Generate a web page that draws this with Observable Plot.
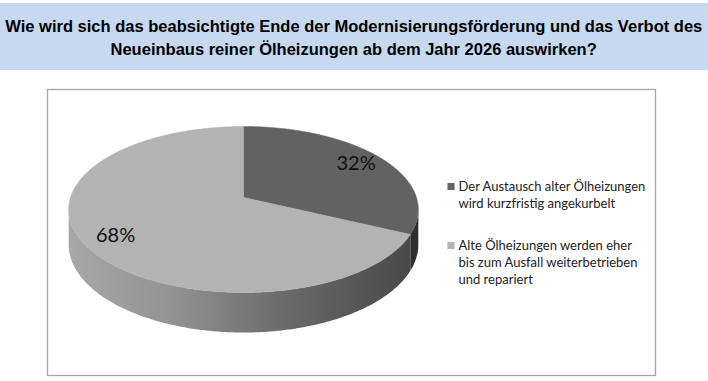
<!DOCTYPE html>
<html><head><meta charset="utf-8">
<script src="https://cdn.jsdelivr.net/npm/d3@7"></script>
<script src="https://cdn.jsdelivr.net/npm/@observablehq/plot@0.6"></script>
<style>
body{margin:0;background:#fff;width:708px;height:381px;overflow:hidden}
#title{margin-top:3px;height:67px;background:#c6d9f1;font-family:"Liberation Sans",Arial,sans-serif;font-weight:bold;font-size:16px;line-height:23px;color:#000;text-align:center;box-sizing:border-box;padding-top:12px}
#title span{display:inline-block;white-space:nowrap;transform-origin:50% 50%}
#chart svg{display:block}
</style></head><body>
<div id="title"><span id="t1">Wie wird sich das beabsichtigte Ende der Modernisierungsförderung und das Verbot des</span><br><span id="t2">Neueinbaus reiner Ölheizungen ab dem Jahr 2026 auswirken?</span></div>
<div id="chart"></div>
<script>
// ---- data ----
const categories = [
  ["Der Austausch alter Ölheizungen", "wird kurzfristig angekurbelt"],
  ["Alte Ölheizungen werden eher", "bis zum Ausfall weiterbetrieben", "und repariert"]
];
const values = [32, 68];
const valueLabels = ["32%", "68%"];

// ---- styles / layout ----
const topFills = ["#626262", "#b3b3b3"];
const sideFills = ["#2f2f2f", "url(#sideGrad)"];
const W = 708, H = 311;
const cx = 243, cy = 127, rx = 173, ry = 81.3, persp = 0.1446, depth = 34.2;

// title width fit
const t1 = document.getElementById("t1"), t2 = document.getElementById("t2");
const sc = 697 / t1.getBoundingClientRect().width;
t1.style.transform = `scaleX(${sc})`;
t2.style.transform = `scaleX(${sc})`;

function proj(phi, f, down = 0) {
  const X = Math.sin(phi) * f, Z = -Math.cos(phi) * f;
  const k = 1 / (1 - persp * Z);
  return [cx + rx * X * k, cy + ry * Z * k + down * k];
}
function arcPts(a, b, f, down) {
  const n = Math.max(2, Math.ceil(Math.abs(b - a) / (Math.PI / 360)));
  return d3.range(n + 1).map(j => proj(a + (b - a) * j / n, f, down));
}

const slices = d3.pie().sort(null).startAngle(0).endAngle(2 * Math.PI)(values);
const phiR = Math.acos(-persp), phiL = 2 * Math.PI - phiR;

const topMarks = slices.map((s, i) => {
  const pts = [proj(0, 0), ...arcPts(s.startAngle, s.endAngle, 1, 0), proj(0, 0)];
  return Plot.line(pts, {x: d => d[0], y: d => d[1], fill: topFills[i], stroke: topFills[i], strokeWidth: 0.5, curve: "linear"});
});
const sideMarks = slices.map((s, i) => {
  const a = Math.max(s.startAngle, phiR), b = Math.min(s.endAngle, phiL);
  if (b <= a) return null;
  const pts = [...arcPts(a, b, 1, 0), ...arcPts(b, a, 1, depth)];
  pts.push(pts[0]);
  return Plot.line(pts, {x: d => d[0], y: d => d[1], fill: sideFills[i], stroke: "none", curve: "linear"});
}).filter(Boolean);

const labelRows = slices.map((s, i) => {
  const p = proj((s.startAngle + s.endAngle) / 2, 0.82);
  return {x: p[0], y: p[1], t: valueLabels[i]};
});

const legendRows = [];
let lineCount = 0;
categories.forEach((lines, i) => {
  lines.forEach((t, j) => {
    legendRows.push({item: i, line: j, t, y: 116 + (lineCount + j) * 17 + i * 25});
  });
  lineCount += lines.length;
});
const legendSquares = legendRows.filter(d => d.line === 0);

const svg = Plot.plot({
  width: W, height: H,
  marginLeft: 47, marginRight: 53, marginTop: 19, marginBottom: 6,
  x: {domain: [47, 655], axis: null},
  y: {domain: [19, 305], reverse: true, axis: null},
  style: {background: "transparent"},
  marks: [
    Plot.frame({stroke: "#a6a6a6", strokeWidth: 1.3}),
    ...sideMarks,
    ...topMarks,
    Plot.text(labelRows, {x: "x", y: "y", text: "t", fontSize: 20, fontFamily: "Lato", fill: "#111"}),
    Plot.dot(legendSquares, {x: 450.5, y: "y", symbol: "square", r: 4, fill: d => topFills[d.item], stroke: "none"}),
    Plot.text(legendRows, {x: 458, y: "y", text: "t", textAnchor: "start", fontSize: 13, fontFamily: "Lato", fill: "#222"})
  ]
});
// gradient for the visible side of the light slice
const defs = d3.select(svg).insert("defs", ":first-child");
const g = defs.append("linearGradient").attr("id", "sideGrad")
  .attr("gradientUnits", "userSpaceOnUse").attr("x1", 68).attr("x2", 418).attr("y1", 0).attr("y2", 0);
[[0, "#a8a8a8"], [0.3, "#929292"], [0.6, "#6c6c6c"], [1, "#464646"]].forEach(([o, c]) =>
  g.append("stop").attr("offset", o).attr("stop-color", c));
document.getElementById("chart").appendChild(svg);
</script>
</body></html>
